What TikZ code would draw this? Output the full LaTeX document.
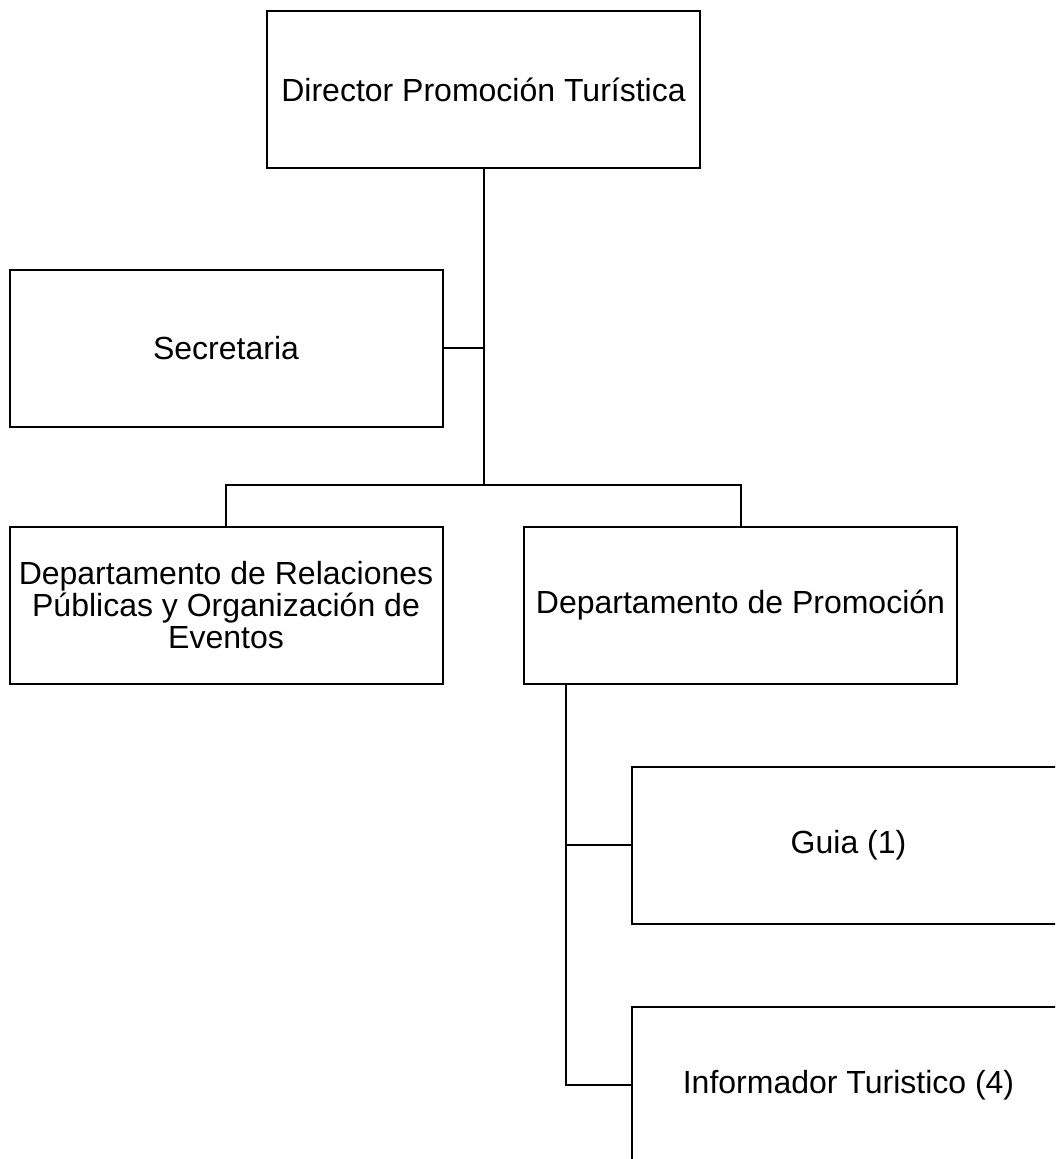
\documentclass[tikz,border=0pt]{standalone}
\usepackage{fontspec}
\setmainfont{Liberation Sans}
\begin{document}
\begin{tikzpicture}[x=1pt,y=-1pt,
  unit/.style={draw=black, line width=2pt, rectangle, minimum width=433pt,
    minimum height=157pt, inner sep=0pt, align=center,
    font=\fontsize{32}{32}\selectfont},
  link/.style={draw=black, line width=2pt}]
  \useasboundingbox (0,0) rectangle (1055,1159);
  \clip (0,0) rectangle (1055,1159);

  % boxes of the organisation chart
  \node[unit] (dir)   at (483.5, 89.5) {Director Promoción Turística};
  \node[unit] (sec)   at (226, 348)    {Secretaria};
  \node[unit] (rp)    at (226, 605)    {Departamento de Relaciones\\Públicas y Organización de\\Eventos};
  \node[unit] (promo) at (740.5, 605)  {Departamento de Promoción};
  \node[unit] (guia)  at (848.5, 845)  {Guia (1)};
  \node[unit] (info)  at (848.5, 1085) {Informador Turistico (4)};

  % junctions
  \coordinate (bar) at (483.5, 485);
  \coordinate (pv)  at ([xshift=43pt]promo.south west);

  % director down to the department bar, secretary branching off
  \draw[link] (dir.south) -- (bar);
  \draw[link] (sec.east) -- (sec.east -| bar);
  \draw[link] (rp.north) |- (bar) -| (promo.north);

  % promotion department down to its staff
  \draw[link] (pv) |- (info.west);
  \draw[link] (pv |- guia.west) -- (guia.west);
\end{tikzpicture}
\end{document}
